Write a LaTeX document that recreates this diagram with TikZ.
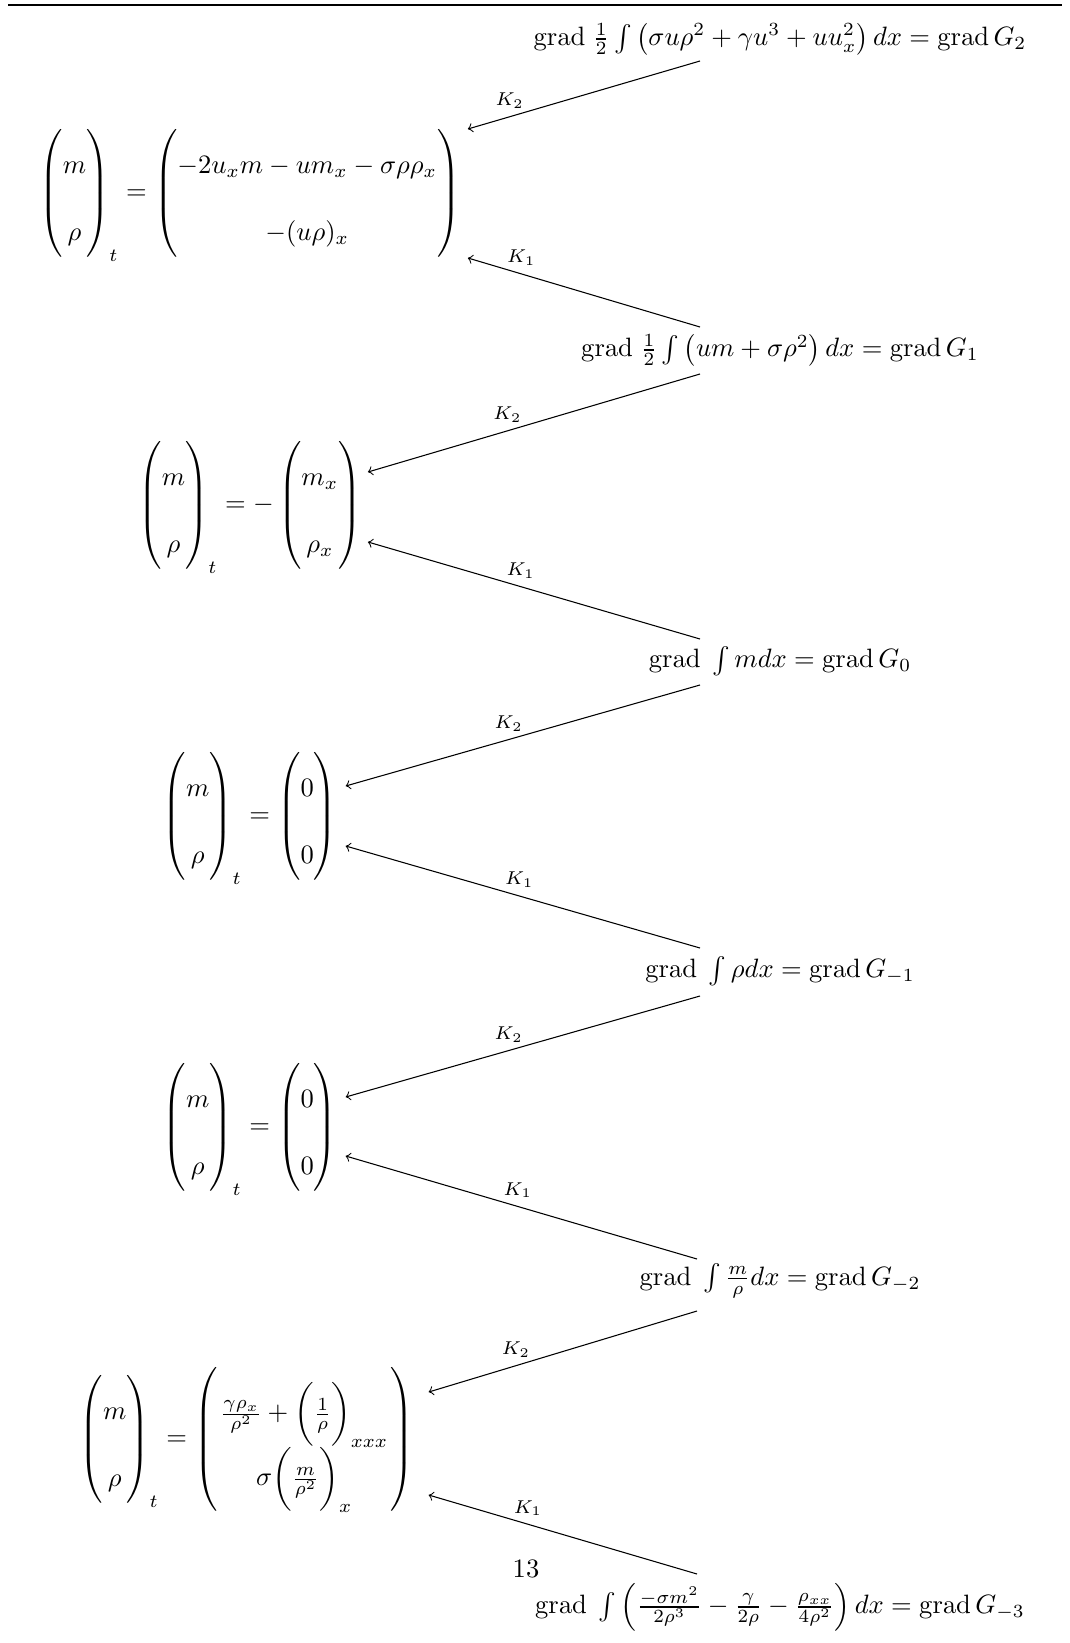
\documentclass[tikz,border=0pt]{standalone}
\usepackage{amsmath}
\usetikzlibrary{calc}
\newcommand{\grd}{\mathrm{grad}}
\begin{document}
\begin{tikzpicture}[x=0.3765pt,y=-0.3765pt,
  eqn/.style={inner sep=0pt, anchor=center},
  gnode/.style={inner sep=0pt, anchor=center},
  karrow/.style={->, line width=0.4pt},
  klab/.style={font=\scriptsize, inner sep=0pt}]
\useasboundingbox (0,0) rectangle (1070,1643);
\draw[line width=0.7pt] (8,5) -- (1062,5);
\renewcommand{\arraystretch}{2.1}
% gradient nodes
\node[gnode] (G2) at (780,39) {$\grd\;\frac12\int\left(\sigma u\rho^2+\gamma u^3+uu_x^2\right)dx=\grd\,G_2$};
\node[gnode] (G1) at (780,350) {$\grd\;\frac12\int\left(um+\sigma\rho^2\right)dx=\grd\,G_1$};
\node[gnode] (G0) at (780,661) {$\grd\;\int mdx=\grd\,G_0$};
\node[gnode] (Gm1) at (780,971) {$\grd\;\int\rho dx=\grd\,G_{-1}$};
\node[gnode] (Gm2) at (780,1281) {$\grd\;\int\frac{m}{\rho}dx=\grd\,G_{-2}$};
\node[gnode] (Gm3) at (780,1607) {$\grd\;\int\left(\frac{-\sigma m^2}{2\rho^3}-\frac{\gamma}{2\rho}-\frac{\rho_{xx}}{4\rho^2}\right)dx=\grd\,G_{-3}$};
% equations
\node[eqn] (E1) at (250,194) {$\begin{pmatrix} m\\ \rho\end{pmatrix}_t=\begin{pmatrix}-2u_xm-um_x-\sigma\rho\rho_x\\ -(u\rho)_x\end{pmatrix}$};
\node[eqn] (E2) at (250,506) {$\begin{pmatrix} m\\ \rho\end{pmatrix}_t=-\begin{pmatrix}m_x\\ \rho_x\end{pmatrix}$};
\node[eqn] (E3) at (250,817) {$\begin{pmatrix} m\\ \rho\end{pmatrix}_t=\begin{pmatrix}0\\ 0\end{pmatrix}$};
\node[eqn] (E4) at (250,1128) {$\begin{pmatrix} m\\ \rho\end{pmatrix}_t=\begin{pmatrix}0\\ 0\end{pmatrix}$};
\node[eqn] (E5) at (247,1440) {$\begin{pmatrix} m\\ \rho\end{pmatrix}_t=\left(\vphantom{\begin{matrix}m\\ \rho\end{matrix}}\lower3pt\hbox{$\renewcommand{\arraystretch}{1}\arraycolsep=1pt\begin{array}{c}\frac{\gamma\rho_x}{\rho^2}+\biggl(\frac{1}{\rho}\biggr)_{xxx}\\[1pt] \sigma\biggl(\frac{m}{\rho^2}\biggr)_x\end{array}$}\right)$};
\node[inner sep=0pt] (pg) at (526,1569) {13};
% arrows
\draw[karrow] ($(G2.center)+(-80,22)$) -- node[klab,pos=0.82,above=3pt]{$K_2$} ($(E1.east)+(7,-65)$);
\draw[karrow] ($(G1.center)+(-80,-23)$) -- node[klab,pos=0.77,above=3pt]{$K_1$} ($(E1.east)+(7,64)$);
\draw[karrow] ($(G1.center)+(-80,24)$) -- node[klab,pos=0.58,above=3pt]{$K_2$} ($(E2.east)+(6,-34)$);
\draw[karrow] ($(G0.center)+(-80,-22)$) -- node[klab,pos=0.54,above=3pt]{$K_1$} ($(E2.east)+(6,36)$);
\draw[karrow] ($(G0.center)+(-80,24)$) -- node[klab,pos=0.54,above=3pt]{$K_2$} ($(E3.east)+(8,-31)$);
\draw[karrow] ($(Gm1.center)+(-80,-23)$) -- node[klab,pos=0.51,above=3pt]{$K_1$} ($(E3.east)+(8,29)$);
\draw[karrow] ($(Gm1.center)+(-80,25)$) -- node[klab,pos=0.54,above=3pt]{$K_2$} ($(E4.east)+(8,-31)$);
\draw[karrow] ($(Gm2.center)+(-83,-22)$) -- node[klab,pos=0.51,above=3pt]{$K_1$} ($(E4.east)+(8,28)$);
\draw[karrow] ($(Gm2.center)+(-83,30)$) -- node[klab,pos=0.675,above=3pt]{$K_2$} ($(E5.east)+(14,-48)$);
\draw[karrow] ($(Gm3.center)+(-83,-33)$) -- node[klab,pos=0.63,above=3pt]{$K_1$} ($(E5.east)+(14,55)$);
\end{tikzpicture}
\end{document}
